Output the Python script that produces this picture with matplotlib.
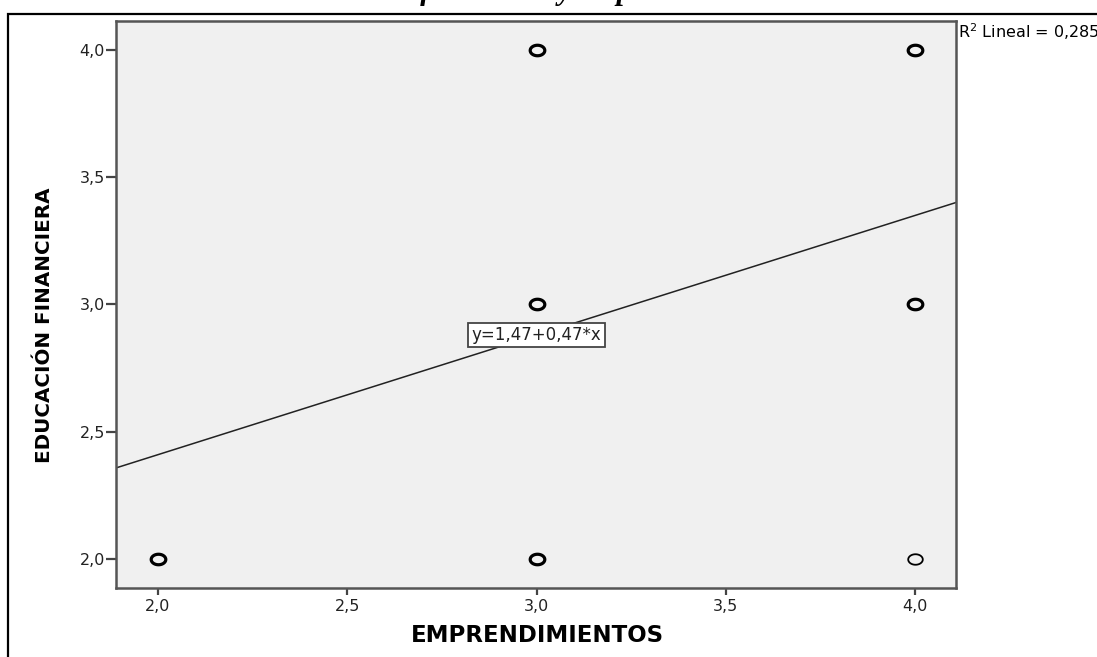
import numpy as np
import matplotlib.pyplot as plt
from matplotlib.path import Path
from matplotlib.patches import Rectangle
from collections import Counter

# observaciones (emprendimientos, educacion financiera)
emprendimientos = [2, 2, 3, 3, 3, 3, 3, 3, 4, 4, 4, 4, 4]
educacion = [2, 2, 2, 2, 3, 3, 4, 4, 2, 3, 3, 4, 4]

intercepto = 1.47
pendiente = 0.47
r2 = 0.285

xticks = [2.0, 2.5, 3.0, 3.5, 4.0]
yticks = [2.0, 2.5, 3.0, 3.5, 4.0]

W, H = 1097, 657
fig = plt.figure(figsize=(W / 100, H / 100), dpi=100)
ax = fig.add_axes([116 / W, 1 - 588 / H, (956 - 116) / W, (588 - 21) / H])
ax.set_facecolor('#f0f0f0')

# marcador eliptico tipo SPSS
t = np.linspace(0, 2 * np.pi, 60)
elipse = Path(np.column_stack([np.cos(t), 0.72 * np.sin(t)]), closed=True)

conteo = Counter(zip(emprendimientos, educacion))
for (x, y), n in conteo.items():
    ax.plot(x, y, ls='none', marker=elipse, ms=10.5, mfc='none', mec='black',
            mew=2.3 if n > 1 else 1.3, zorder=3)

ax.set_xlim(1.889, 4.108)
ax.set_ylim(1.886, 4.114)

xs = np.array(ax.get_xlim())
ax.plot(xs, intercepto + pendiente * xs, color='#222222', lw=1.1, zorder=2)

etiqueta = 'y={:.2f}+{:.2f}*x'.format(intercepto, pendiente).replace('.', ',')
ax.text(3.0, 2.88, etiqueta, ha='center', va='center', fontsize=12, zorder=4,
        color='#222222',
        bbox=dict(boxstyle='square,pad=0.2', fc='white', ec='#444444', lw=1.3))

ax.set_xticks(xticks)
ax.set_xticklabels(['{:.1f}'.format(v).replace('.', ',') for v in xticks])
ax.set_yticks(yticks)
ax.set_yticklabels(['{:.1f}'.format(v).replace('.', ',') for v in yticks])
ax.tick_params(axis='x', direction='out', length=5, width=1.6, color='#444444',
               labelsize=11.5, pad=3, labelcolor='#222222')
ax.tick_params(axis='y', direction='out', length=7, width=1.6, color='#444444',
               labelsize=11.5, pad=1, labelcolor='#222222')
for s in ax.spines.values():
    s.set_color('#555555')
    s.set_linewidth(1.8)

ax.set_xlabel('EMPRENDIMIENTOS', fontsize=16.5, fontweight='bold', va='center')
ax.xaxis.set_label_coords((537 - 116) / 840, (588 - 636) / 567)
ax.set_ylabel('EDUCACIÓN FINANCIERA', fontsize=14.3, fontweight='bold', va='center')
ax.yaxis.set_label_coords((45 - 116) / 840, (588 - 325) / 567)

fig.text(958 / W, 1 - 32 / H, 'R$^2$ Lineal = {:.3f}'.format(r2).replace('.', ','),
         ha='left', va='center', fontsize=11.5)

# titulo cortado por el borde superior; se alinea la "f" de financiera
titulo = 'Relación de educación financiera y emprendimientos'
estilo = dict(fontsize=22, fontstyle='italic', fontweight='bold',
              family='Liberation Serif')
r = fig.canvas.get_renderer()
tmp = fig.text(0, 0.5, titulo[:titulo.index('financiera')], **estilo)
ancho = tmp.get_window_extent(r).width
tmp.remove()
fig.text((420 - ancho) / W, 1 + 0.5 / H, titulo, ha='left', va='baseline', **estilo)

# marco exterior
fig.add_artist(Rectangle((8 / W, -0.1), 1.2, (1 - 14 / H) + 0.1,
                         transform=fig.transFigure, fill=False,
                         ec='black', lw=1.6))

fig.savefig('out.png', dpi=100)
